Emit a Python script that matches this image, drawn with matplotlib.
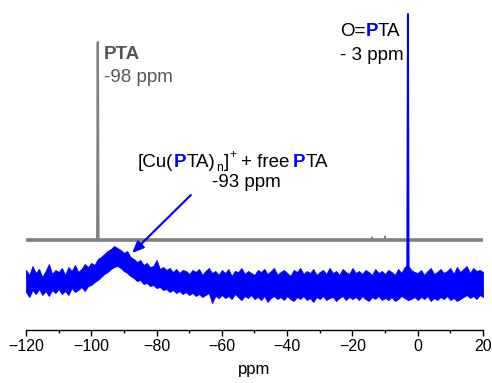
import numpy as np
import matplotlib.pyplot as plt
from matplotlib.ticker import MultipleLocator

plt.rcParams['font.family'] = ['Liberation Sans', 'DejaVu Sans']

W, H = 492, 383

# blue trace (complex + free PTA): upper / lower edge of the noisy band, every 1 ppm
blue_ppm = list(range(-120, 21))
blue_top = [60, 55, 64, 57, 61, 53, 59, 66, 56, 60,
            58, 62, 55, 63, 59, 65, 58, 61, 66, 63,
            67, 65, 71, 73, 76, 79, 81, 84, 82, 80,
            77, 79, 73, 71, 68, 70, 65, 67, 63, 64,
            70, 61, 63, 60, 62, 58, 61, 57, 60, 59,
            56, 60, 58, 61, 55, 59, 62, 57, 59, 55,
            60, 57, 61, 54, 59, 58, 62, 56, 59, 57,
            55, 60, 58, 61, 56, 59, 62, 55, 58, 60,
            57, 54, 60, 58, 62, 56, 59, 57, 61, 55,
            58, 60, 56, 62, 57, 59, 55, 61, 58, 56,
            62, 57, 59, 56, 60, 58, 55, 61, 57, 59,
            56, 60, 58, 55, 61, 57, 63, 65, 60, 58,
            57, 60, 55, 59, 62, 56, 58, 61, 57, 59,
            62, 56, 63, 58, 61, 64, 57, 62, 59, 60, 58]
blue_bot = [38, 33, 40, 36, 41, 35, 39, 34, 40, 37,
            41, 36, 39, 35, 42, 38, 40, 43, 39, 44,
            45, 48, 50, 53, 56, 58, 61, 63, 64, 62,
            59, 57, 54, 52, 49, 50, 46, 47, 44, 45,
            42, 43, 40, 41, 38, 40, 37, 39, 36, 38,
            35, 37, 34, 36, 33, 35, 37, 27, 34, 32,
            35, 32, 34, 31, 36, 33, 30, 34, 32, 35,
            31, 33, 30, 34, 28, 32, 34, 31, 33, 30,
            34, 31, 29, 33, 31, 34, 30, 32, 28, 33,
            31, 34, 30, 32, 33, 29, 32, 34, 30, 33,
            31, 33, 30, 34, 31, 29, 33, 31, 34, 30,
            32, 30, 33, 29, 31, 34, 32, 30, 31, 33,
            30, 33, 31, 34, 29, 32, 30, 33, 31, 34,
            30, 32, 29, 31, 33, 35, 32, 34, 31, 35, 33]

# sharp O=PTA line at -3 ppm
spike_ppm = [-3.2, -3.0, -2.8]
spike_val = [58, 316, 58]

# grey trace (free PTA)
grey_ppm = [-120, 20]
grey_val = [90, 90]
grey_peak_ppm = [-98.2, -98.0, -97.8]
grey_peak_val = [90, 288, 90]
grey_blip_ppm = [-14.1, -14.0, -13.9, -10.1, -10.0, -9.9]
grey_blip_val = [90, 93, 90, 90, 94, 90]

fig = plt.figure(figsize=(W / 100, H / 100), dpi=100)
ax = fig.add_axes([26 / W, (H - 330) / H, 457 / W, 325 / H])

ax.plot(grey_ppm, grey_val, color='#808080', lw=2.6)
ax.plot(grey_peak_ppm, grey_peak_val, color='#808080', lw=1.6)
ax.plot(grey_blip_ppm, grey_blip_val, color='#808080', lw=1.0)
ax.fill_between(blue_ppm, blue_bot, blue_top, color='#0000FF', lw=0.6, edgecolor='#0000FF')
ax.plot(spike_ppm, spike_val, color='#0000FF', lw=1.4)

ax.set_xlim(-120, 20)
ax.set_ylim(0, 325)
ax.xaxis.set_major_locator(MultipleLocator(20))
ax.xaxis.set_minor_locator(MultipleLocator(10))
ax.tick_params(axis='x', which='major', direction='out', length=4, width=1,
               labelsize=11.5, pad=2.5)
ax.tick_params(axis='x', which='minor', direction='out', length=2.5, width=1)
ax.set_yticks([])
for s in ['left', 'right', 'top']:
    ax.spines[s].set_visible(False)
ax.spines['bottom'].set_linewidth(1)
ax.set_xlabel('ppm', fontsize=12, labelpad=6)

renderer = fig.canvas.get_renderer()


def rich(x, y, parts, size=13.5):
    # parts: (text, colour, weight, size factor, baseline shift px, gap px after)
    for txt, col, wt, f, dy, gap in parts:
        t = fig.text(x / W, 1 - (y + dy) / H, txt, color=col, fontweight=wt,
                     fontsize=size * f, ha='left', va='baseline')
        x += t.get_window_extent(renderer).width + gap


blue = '#0000FF'
dark = '#555555'
rich(104, 59, [('PTA', dark, 'bold', 1, 0, 0)])
rich(104, 82, [('-98 ppm', dark, 'normal', 1, 0, 0)])

rich(340, 36, [('O=', 'black', 'normal', 1, 0, 0), ('P', blue, 'bold', 1, 0, 0),
               ('TA', 'black', 'normal', 1, 0, 0)])
rich(340, 60, [('- 3 ppm', 'black', 'normal', 1, 0, 0)])

rich(138, 167, [('[Cu(', 'black', 'normal', 1, 0, 0.5), ('P', blue, 'bold', 1, 0, 0.5),
                ('TA)', 'black', 'normal', 1, 0, 0.5), ('n', 'black', 'normal', 0.65, 4, 0.5),
                (']', 'black', 'normal', 1, 0, 1), ('+', 'black', 'normal', 0.65, -9, 4),
                ('+ free', 'black', 'normal', 1, 0, 4), ('P', blue, 'bold', 1, 0, 0.5),
                ('TA', 'black', 'normal', 1, 0, 0)])
rich(212, 187, [('-93 ppm', 'black', 'normal', 1, 0, 0)])

ax.annotate('', xy=(-87.5, 77), xytext=(-69.5, 135),
            arrowprops=dict(arrowstyle='-|>,head_length=0.7,head_width=0.3',
                            color=blue, lw=1.5, shrinkA=0, shrinkB=0))

fig.savefig('out.png', dpi=100)
